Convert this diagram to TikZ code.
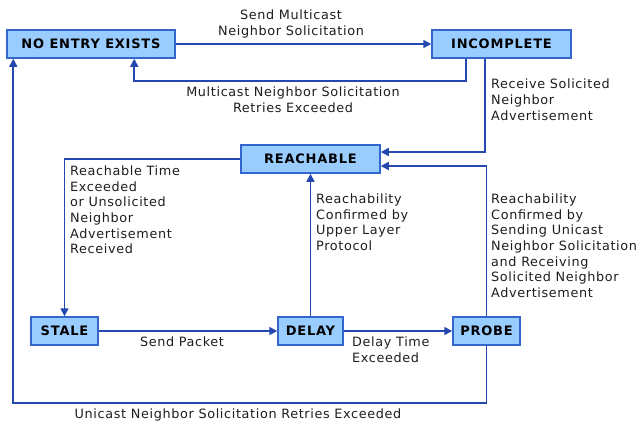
\documentclass[tikz,border=0pt]{standalone}
\usepackage{fontspec}
\setmainfont{DejaVu Sans}
\newfontfamily\lblfont[LetterSpace=5]{DejaVu Sans}
\newfontfamily\statefont[LetterSpace=6]{DejaVu Sans Bold}
\usetikzlibrary{arrows.meta,calc}
\definecolor{boxfill}{RGB}{153,204,255}
\definecolor{boxline}{RGB}{51,102,204}
\definecolor{wire}{RGB}{36,72,176}
\definecolor{txt}{RGB}{30,30,30}
\begin{document}
\begin{tikzpicture}[x=1pt,y=-1pt,
  state/.style={draw=boxline,fill=boxfill,line width=1.5pt,minimum height=28pt,inner sep=0pt,
    font=\statefont\fontsize{13}{14}\selectfont,text=black},
  lbl/.style={inner sep=0pt,align=left,font=\lblfont\fontsize{12.8}{15.7}\selectfont,text=txt},
  clbl/.style={inner sep=0pt,align=center,font=\lblfont\fontsize{12.8}{15.7}\selectfont,text=txt},
  wireline/.style={draw=wire,line width=1.6pt},
  arr/.style={wireline,-{Triangle[length=8pt,width=8pt]}}]
\useasboundingbox[fill=white] (0,0) rectangle (642,420);
\node[state,minimum width=168pt] (nee) at (91,44) {NO ENTRY EXISTS};
\node[state,minimum width=139pt] (inc) at (501.5,44) {INCOMPLETE};
\node[state,minimum width=139pt] (reach) at (310.5,159) {REACHABLE};
\node[state,minimum width=67pt] (stale) at (64.5,331) {STALE};
\node[state,minimum width=65pt] (delay) at (310.5,331) {DELAY};
\node[state,minimum width=67pt] (probe) at (486.5,331) {PROBE};
\coordinate (incA) at ($(inc.south west)+(35,0)$);
\coordinate (neeB) at ($(nee.south west)+(128,0)$);
\coordinate (neeL) at ($(nee.south west)+(7,0)$);
\coordinate (incB) at ($(inc.south west)+(54,0)$);
\coordinate (reachE1) at ($(reach.east)+(0,-7)$);
\coordinate (reachE2) at ($(reach.east)+(0,7)$);
\draw[arr] (nee.east) -- (inc.west);
\draw[arr] (incA) -- ++(0,22) -| (neeB);
\draw[arr] (incB) |- (reachE1);
\draw[arr] (probe.north) |- (reachE2);
\draw[arr] (reach.west) -| (stale.north);
\draw[arr] (stale.east) -- (delay.west);
\draw[arr] (delay.east) -- (probe.west);
\draw[arr] (delay.north) -- (reach.south);
\draw[arr] (probe.south) -- ++(0,57) -| (neeL);
\node[clbl] (l1) at (291,24) {Send Multicast\\Neighbor Solicitation};
\node[clbl] (l2) at (293,99.5) {Multicast Neighbor Solicitation\\Retries Exceeded};
\node[lbl,anchor=north west] (l3) at (491,79) {Receive Solicited\\Neighbor\\Advertisement};
\node[lbl,anchor=north west] (l4) at (70,165.5) {Reachable Time\\Exceeded\\or Unsolicited\\Neighbor\\Advertisement\\Received};
\node[lbl,anchor=north west] (l5) at (316,193.5) {Reachability\\Confirmed by\\Upper Layer\\Protocol};
\node[lbl,anchor=north west] (l6) at (491,193.5) {Reachability\\Confirmed by\\Sending Unicast\\Neighbor Solicitation\\and Receiving\\Solicited Neighbor\\Advertisement};
\node[clbl] (l7) at (182,342) {Send Packet};
\node[lbl,anchor=north west] (l8) at (352,336.5) {Delay Time\\Exceeded};
\node[clbl] (l9) at (238,414.5) {Unicast Neighbor Solicitation Retries Exceeded};
\end{tikzpicture}
\end{document}
